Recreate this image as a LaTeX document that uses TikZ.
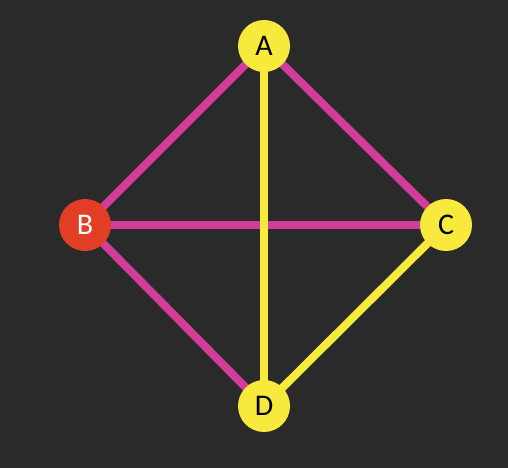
\documentclass[tikz,border=0pt]{standalone}
\usepackage{fontspec}
\setmainfont{Carlito}
\usetikzlibrary{backgrounds}
\definecolor{board}{HTML}{2A2A2A}
\definecolor{vyellow}{HTML}{F7EA3C}
\definecolor{vmag}{HTML}{D43C9C}
\definecolor{vred}{HTML}{E23E26}
\begin{document}
\begin{tikzpicture}[x=1pt,y=-1pt,
  vertex/.style={circle,minimum size=52pt,inner sep=0pt,font=\fontsize{30}{30}\selectfont},
  yv/.style={vertex,fill=vyellow,text=black},
  rv/.style={vertex,fill=vred,text=white},
  magedge/.style={draw=vmag,line width=8pt},
  yedge/.style={draw=vyellow,line width=8pt}]
\node[yv] (A) at (264,46) {A};
\node[rv] (B) at (85,225) {B};
\node[yv] (C) at (446,225) {C};
\node[yv] (D) at (264,406) {D};
\begin{scope}[on background layer]
\fill[board] (0,0) rectangle (508,468);
\path[magedge] (A.center) -- (B.center);
\path[magedge] (A.center) -- (C.center);
\path[magedge] (B.center) -- (C.center);
\path[magedge] (B.center) -- (D.center);
\path[yedge] (A.center) -- (D.center);
\path[yedge] (C.center) -- (D.center);
\end{scope}
\useasboundingbox (0,0) rectangle (508,468);
\end{tikzpicture}
\end{document}
